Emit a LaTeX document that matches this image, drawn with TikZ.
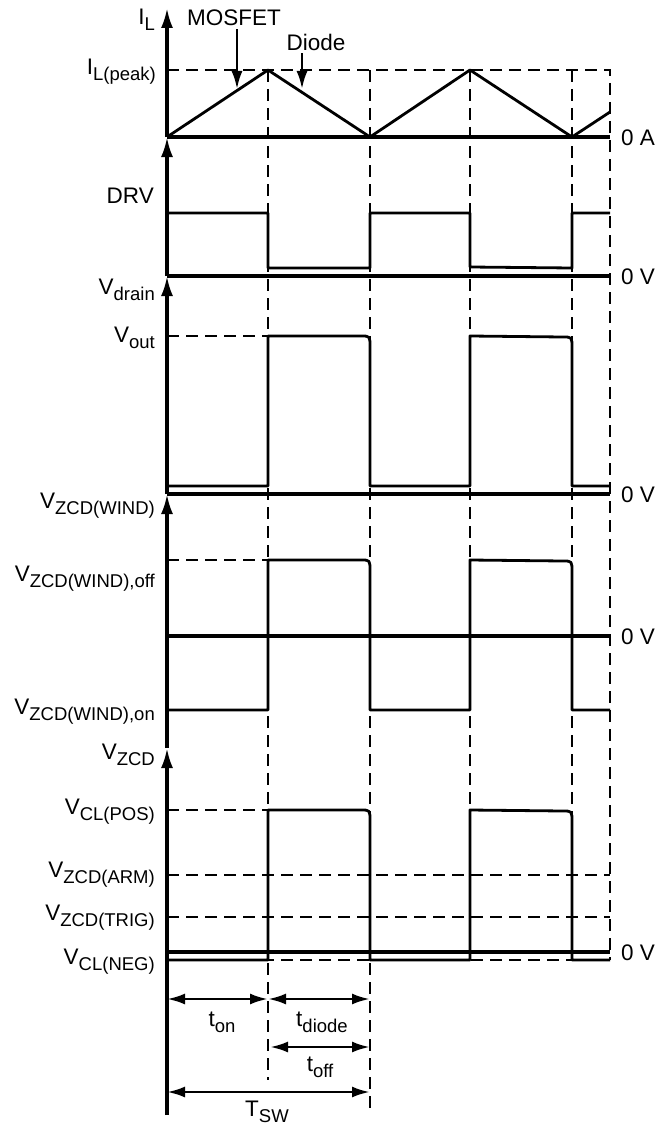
\documentclass[tikz,border=0pt]{standalone}
\usepackage{fontspec}
\setmainfont{Liberation Sans}
\usetikzlibrary{arrows.meta}

\newcommand{\sbs}[1]{\raisebox{-0.5ex}{\fontsize{18.5}{18.5}\selectfont #1}}

\begin{document}
\begin{tikzpicture}[x=1pt,y=-1pt,
        every node/.style={font=\fontsize{22.5}{24}\selectfont, inner sep=0pt},
        axis/.style={line width=3.2pt, -{Latex[length=20pt,width=12pt]}},
        zero/.style={line width=3.6pt},
        wave/.style={line width=2.8pt, line join=round},
        guide/.style={line width=1.5pt, dash pattern=on 12pt off 7pt},
        ptr/.style={line width=2.6pt, -{Latex[length=18pt,width=11pt]}},
        dim/.style={line width=2.8pt, {Latex[length=18pt,width=11pt]}-{Latex[length=18pt,width=11pt]}},
        lbl/.style={anchor=east}]
    \useasboundingbox (0,0) rectangle (659,1129);

    % guide lines
    \draw[guide] (167,70) -- (610,70) -- (610,960);
    \draw[guide] (268,70) -- (268,1080);
    \draw[guide] (370,70) -- (370,1108);
    \draw[guide] (470,70) -- (470,960);
    \draw[guide] (572,70) -- (572,960);
    \draw[guide] (167,336) -- (268,336);
    \draw[guide] (167,560) -- (268,560);
    \draw[guide] (167,810) -- (268,810);
    \draw[guide] (167,875) -- (610,875);
    \draw[guide] (167,917) -- (610,917);
    \draw[guide] (167,960) -- (610,960);

    % axes
    \draw[axis] (167,137) -- (167,8);
    \draw[axis] (167,276) -- (167,137);
    \draw[axis] (167,494) -- (167,276);
    \draw[axis] (167,748) -- (167,494);
    \draw[axis] (167,1115) -- (167,748);
    \draw[zero] (167,137) -- (610,137);
    \draw[zero] (167,276) -- (610,276);
    \draw[zero] (167,494) -- (610,494);
    \draw[zero] (167,636) -- (610,636);
    \draw[zero] (167,952) -- (610,952);

    % waveforms
    \draw[wave] (167,137) -- (268,70) -- (370,137) -- (470,70) -- (572,137) -- (610,112);
    \draw[wave] (167,213) -- (268,213) -- (268,268) -- (370,268) -- (370,213) -- (470,213)
        -- (470,267) -- (572,268) -- (572,213) -- (610,213);
    \draw[wave] (167,486) -- (268,486) -- (268,336) -- (361,336) .. controls (370,336) .. (370,347)
        -- (370,486) -- (470,486) -- (470,336) -- (563,337) .. controls (572,337) .. (572,348)
        -- (572,486) -- (610,486);
    \draw[wave] (167,710) -- (268,710) -- (268,560) -- (361,560) .. controls (370,560) .. (370,571)
        -- (370,710) -- (470,710) -- (470,560) -- (563,561) .. controls (572,561) .. (572,572)
        -- (572,710) -- (610,710);
    \draw[wave] (167,960) -- (268,960) -- (268,810) -- (361,810) .. controls (370,810) .. (370,821)
        -- (370,960) -- (470,960) -- (470,810) -- (563,811) .. controls (572,811) .. (572,822)
        -- (572,960) -- (610,960);

    % axis labels
    \node[lbl] (il) at (155,20) {I\sbs{L}};
    \node[lbl] (ilpk) at (156,72) {I\sbs{L(peak)}};
    \node[lbl] (drv) at (154,196) {DRV};
    \node[lbl] (vdrn) at (155,290) {V\sbs{drain}};
    \node[lbl] (vout) at (155,338) {V\sbs{out}};
    \node[lbl] (vwnd) at (155,506) {V\sbs{ZCD(WIND)}};
    \node[lbl] (vwoff) at (155,579) {V\sbs{ZCD(WIND),off}};
    \node[lbl] (vwon) at (155,712) {V\sbs{ZCD(WIND),on}};
    \node[lbl] (vzcd) at (155,755) {V\sbs{ZCD}};
    \node[lbl] (vpos) at (155,812) {V\sbs{CL(POS)}};
    \node[lbl] (varm) at (155,875) {V\sbs{ZCD(ARM)}};
    \node[lbl] (vtrg) at (155,918) {V\sbs{ZCD(TRIG)}};
    \node[lbl] (vneg) at (155,962) {V\sbs{CL(NEG)}};
    \node[anchor=west] (zA) at (621,138) {0 A};
    \node[anchor=west] (zV1) at (621,277) {0 V};
    \node[anchor=west] (zV2) at (621,495) {0 V};
    \node[anchor=west] (zV3) at (621,637) {0 V};
    \node[anchor=west] (zV4) at (621,953) {0 V};

    % MOSFET / Diode pointers
    \node (mosfet) at (234,18) {MOSFET};
    \node (diode) at (316,42) {Diode};
    \coordinate (mtip) at (237,89);
    \coordinate (dtip) at (302,89);
    \draw[ptr] ([yshift=-3pt]mosfet.south -| mtip) -- (mtip);
    \draw[ptr] ([yshift=-3pt]diode.south -| dtip) -- (dtip);

    % timing
    \coordinate (t0) at (167,999);
    \coordinate (t1) at (268,999);
    \coordinate (t2) at (370,999);
    \coordinate (f1) at (270,1047);
    \coordinate (f2) at (370,1047);
    \coordinate (s0) at (167,1092);
    \coordinate (s1) at (370,1092);
    \draw[dim] (t0) -- (t1);
    \draw[dim] (t1) -- (t2);
    \draw[dim] (f1) -- (f2);
    \draw[dim] (s0) -- (s1);
    \node (ton) at (222,1022) {t\sbs{on}};
    \node (tdio) at (322,1022) {t\sbs{diode}};
    \node (toff) at (320,1067) {t\sbs{off}};
    \node (tsw) at (267,1112) {T\sbs{SW}};
\end{tikzpicture}
\end{document}
